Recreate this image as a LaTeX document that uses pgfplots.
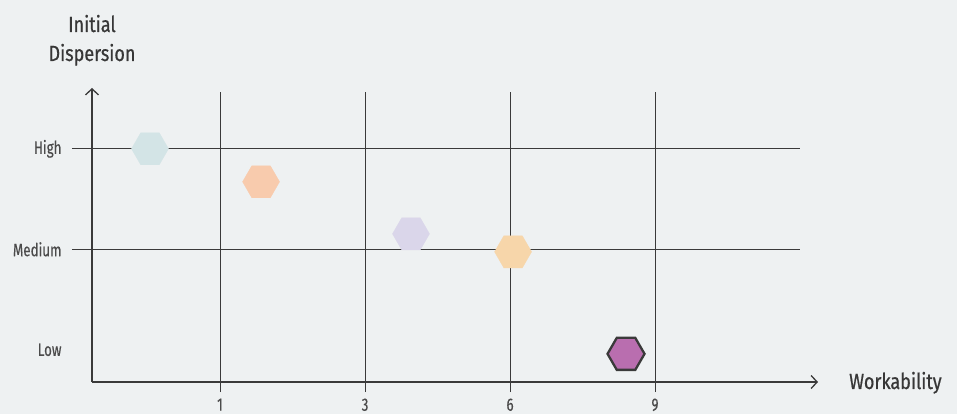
\documentclass[border=0pt]{standalone}
\usepackage{fontspec}
\setmainfont[FakeStretch=0.82,FakeBold=0.6]{Fira Sans}
\newfontfamily\tickfont[FakeStretch=0.74,FakeBold=0.3]{Fira Sans}
\usepackage{pgfplots}
\pgfplotsset{compat=1.18}
\usetikzlibrary{arrows.meta}
\definecolor{bg}{RGB}{238,241,242}
\definecolor{axiscol}{RGB}{58,58,58}
\definecolor{titlecol}{RGB}{55,55,55}
\definecolor{tickcol}{RGB}{75,75,75}
\definecolor{hteal}{RGB}{211,228,230}
\definecolor{hpeach}{RGB}{248,203,173}
\definecolor{hlav}{RGB}{218,214,234}
\definecolor{horange}{RGB}{247,214,170}
\definecolor{hpurple}{RGB}{185,110,175}
\pgfdeclareplotmark{hexagon}{%
  \pgfpathmoveto{\pgfqpointpolar{0}{\pgfplotmarksize}}%
  \pgfpathlineto{\pgfqpointpolar{60}{\pgfplotmarksize}}%
  \pgfpathlineto{\pgfqpointpolar{120}{\pgfplotmarksize}}%
  \pgfpathlineto{\pgfqpointpolar{180}{\pgfplotmarksize}}%
  \pgfpathlineto{\pgfqpointpolar{240}{\pgfplotmarksize}}%
  \pgfpathlineto{\pgfqpointpolar{300}{\pgfplotmarksize}}%
  \pgfpathclose
  \pgfusepathqfillstroke
}
\begin{document}
\begin{tikzpicture}
\useasboundingbox[fill=bg] (0,0) rectangle (957pt,414pt);
\begin{axis}[
  at={(92pt,32pt)}, anchor=south west,
  scale only axis, width=726pt, height=294pt,
  xmin=-0.883, xmax=4.124, ymin=0.68, ymax=3.605,
  axis lines=left,
  axis line style={draw=axiscol, line width=1.4pt, -{Straight Barb[length=6pt,width=13pt,line width=1.3pt]}},
  clip=false,
  xtick={0,1,2,3}, xticklabels={1,3,6,9},
  ytick={1,2,3}, yticklabels={Low,Medium,High},
  major tick length=0pt, tick style={draw=none},
  ticklabel style={font=\tickfont\fontsize{18}{20}\selectfont, text=tickcol},
  yticklabel style={xshift=-27pt},
  xticklabel style={yshift=-13pt},
]
\draw[axiscol, line width=0.9pt] (axis cs:-1.021,3) -- (axis cs:4,3);
\draw[axiscol, line width=0.9pt] (axis cs:-1.021,2) -- (axis cs:4,2);
\draw[axiscol, line width=0.9pt] (axis cs:0,0.58) -- (axis cs:0,3.566);
\draw[axiscol, line width=0.9pt] (axis cs:1,0.58) -- (axis cs:1,3.566);
\draw[axiscol, line width=0.9pt] (axis cs:2,0.58) -- (axis cs:2,3.566);
\draw[axiscol, line width=0.9pt] (axis cs:3,0.58) -- (axis cs:3,3.566);
\addplot[only marks, mark=hexagon, mark size=18.5pt, color=hteal, mark options={fill=hteal, draw=hteal, line width=0.3pt}] coordinates {(-0.483,3.0)};
\addplot[only marks, mark=hexagon, mark size=18.5pt, color=hpeach, mark options={fill=hpeach, draw=hpeach, line width=0.3pt}] coordinates {(0.283,2.672)};
\addplot[only marks, mark=hexagon, mark size=18.5pt, color=hlav, mark options={fill=hlav, draw=hlav, line width=0.3pt}] coordinates {(1.317,2.154)};
\addplot[only marks, mark=hexagon, mark size=18.5pt, color=horange, mark options={fill=horange, draw=horange, line width=0.3pt}] coordinates {(2.021,1.975)};
\addplot[only marks, mark=hexagon, mark size=18.5pt, color=axiscol, mark options={fill=hpurple, draw=axiscol, line width=2.3pt}] coordinates {(2.8,0.96)};
\end{axis}
\node[anchor=base, text=titlecol, font=\fontsize{22}{24}\selectfont, inner sep=0pt] at (92pt,382pt) {Initial};
\node[anchor=base, text=titlecol, font=\fontsize{22}{24}\selectfont, inner sep=0pt] at (92pt,353pt) {Dispersion};
\node[anchor=base west, text=titlecol, font=\fontsize{22}{24}\selectfont, inner sep=0pt] at (849pt,25pt) {Workability};
\end{tikzpicture}
\end{document}
